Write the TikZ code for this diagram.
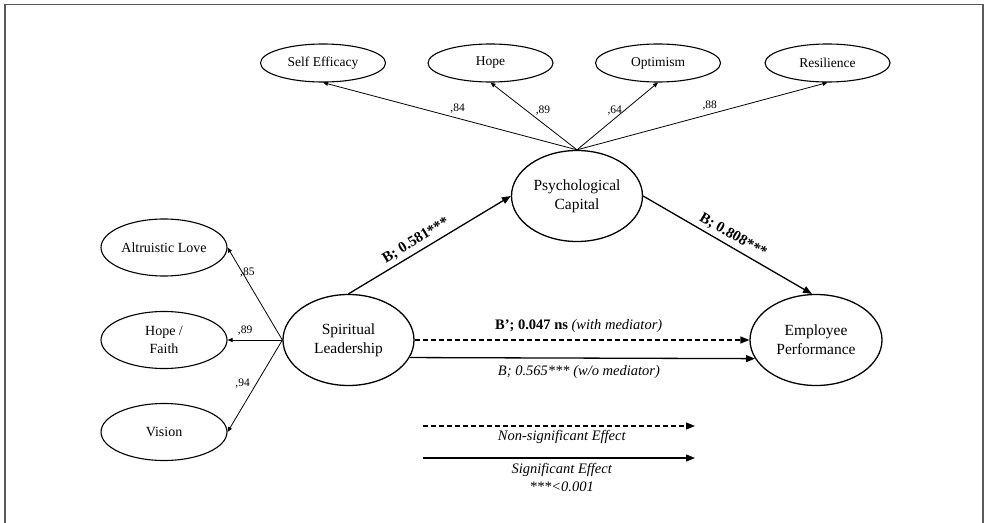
\documentclass[tikz,border=0pt]{standalone}
\usepackage{fontspec}
\setmainfont{Liberation Serif}
\usetikzlibrary{arrows.meta,shapes.geometric}
\tikzset{
  ind/.style={ellipse, draw, line width=1.1pt, inner sep=0pt, minimum width=125pt, minimum height=38pt, font=\fontsize{13.5}{15}\selectfont},
  leftind/.style={ellipse, draw, line width=1.1pt, inner sep=0pt, minimum width=126pt, minimum height=57pt, align=center, font=\fontsize{14}{17.5}\selectfont},
  construct/.style={ellipse, draw, line width=1.3pt, inner sep=0pt, minimum width=131pt, minimum height=91pt, align=center, font=\fontsize{15.5}{19}\selectfont},
  load/.style={draw, line width=0.8pt, -{Triangle[length=5pt,width=4pt]}},
  loadlbl/.style={font=\fontsize{11.5}{13}\selectfont, inner sep=0pt},
  mainarr/.style={draw, line width=1.3pt, -{Triangle[length=9pt,width=7pt]}},
  pathlbl/.style={font=\fontsize{15}{17}\selectfont\bfseries, sloped, above, inner sep=4pt},
  flatlbl/.style={font=\fontsize{14.5}{17}\selectfont},
  legendlbl/.style={font=\fontsize{14.5}{18}\selectfont\itshape, align=center}
}
\begin{document}
\begin{tikzpicture}[x=1pt,y=-1pt]
\useasboundingbox (0,0) rectangle (990,522);
\draw[line width=1.5pt, black!65] (5,530) -- (5,4.5) -- (983,4.5) -- (983,530);

% indicator ellipses
\node[ind] (se) at (323,63) {Self Efficacy};
\node[ind] (hope) at (490.5,63) {Hope};
\node[ind] (opt) at (658,63) {Optimism};
\node[ind] (res) at (827.5,63) {Resilience};
\node[leftind] (al) at (164,247.5) {Altruistic Love};
\node[leftind] (hf) at (164,340) {Hope /\\Faith};
\node[leftind] (vis) at (164,432) {Vision};

% constructs
\node[construct] (pc) at (577,196) {Psychological\\Capital};
\node[construct] (sl) at (348.5,340) {Spiritual\\Leadership};
\node[construct, minimum width=132pt] (ep) at (816,340) {Employee\\Performance};

% loadings of psychological capital
\path[load] (pc.north) -- node[loadlbl, pos=0.47, yshift=10pt] {,84} (se.south);
\path[load] (pc.north) -- node[loadlbl, pos=0.59, xshift=17pt] {,89} (hope.south);
\path[load] (pc.north) -- node[loadlbl, pos=0.59, xshift=-10pt] {,64} (opt.south);
\path[load] (pc.north) -- node[loadlbl, pos=0.53, yshift=9pt] {,88} (res.south);

% loadings of spiritual leadership
\path[load] (sl.west) -- node[loadlbl, pos=0.73, xshift=5pt] {,85} (al.east);
\path[load] (sl.west) -- node[loadlbl, pos=0.68, yshift=9pt] {,89} (hf.east);
\path[load] (sl.west) -- node[loadlbl, pos=0.47, xshift=-14pt] {,94} (vis.east);

% structural paths
\path[mainarr] (sl.north) -- node[pathlbl, pos=0.45] {B; 0.581***} (pc.west);
\path[mainarr] (pc.east) -- node[pathlbl, pos=0.5] {B; 0.808***} (ep.95);
\path[mainarr, dashed, dash pattern=on 5pt off 3pt] (sl.east) -- node[flatlbl, above, pos=0.49, yshift=3pt] {\textbf{B’; 0.047 ns} \textit{(with mediator)}} (ep.west);
\path[mainarr] (sl.-16.7) -- node[flatlbl, below, pos=0.49, yshift=-3pt] {\textit{B; 0.565*** (w/o mediator)}} (ep.-163.4);

% legend
\coordinate (d1) at (423,426);
\coordinate (d2) at (695,426);
\coordinate (s1) at (423,458);
\coordinate (s2) at (695,458);
\path[mainarr, line width=1.1pt, dashed, dash pattern=on 5pt off 3pt] (d1) -- node[legendlbl, below, pos=0.51] {Non-significant Effect} (d2);
\path[mainarr] (s1) -- node[legendlbl, below, pos=0.51, yshift=-1pt] {Significant Effect\\***<0.001} (s2);
\end{tikzpicture}
\end{document}
